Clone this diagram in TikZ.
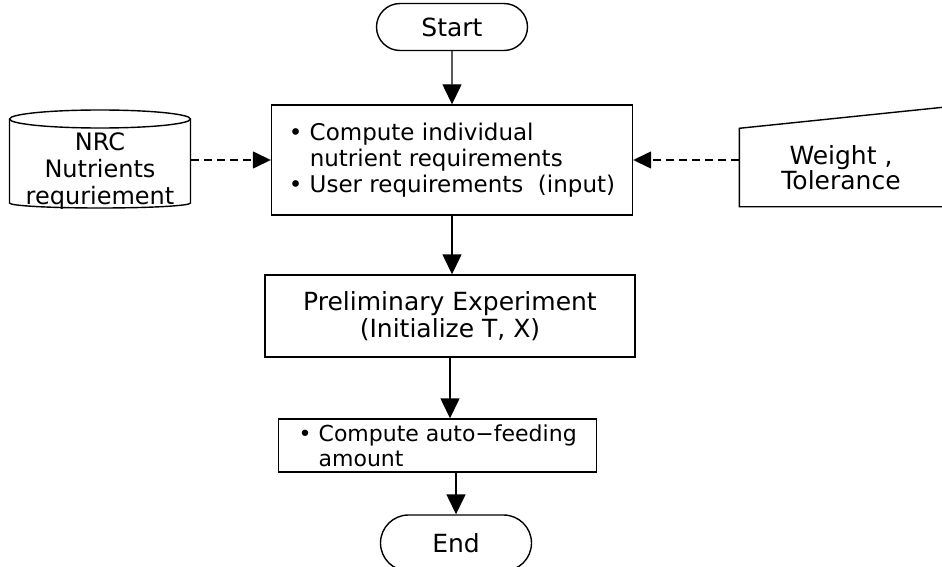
\documentclass[tikz,border=0pt]{standalone}
\usepackage{fontspec}
\setmainfont{DejaVu Sans}
\usetikzlibrary{arrows.meta,shapes.misc}
\begin{document}
\begin{tikzpicture}[x=1pt,y=-1pt,
  font=\fontsize{23}{26}\selectfont,
  line width=1.4pt,
  term/.style={rounded rectangle, draw, minimum width=151pt, minimum height=47pt, inner sep=0pt},
  proc/.style={rectangle, draw, inner sep=0pt},
  flow/.style={-{Triangle[length=20pt,width=19pt]}},
  feed/.style={-{Triangle[length=18pt,width=17pt]}, dash pattern=on 8pt off 5pt}]
\useasboundingbox (0,0) rectangle (942,567);
% terminals
\node [term, font=\fontsize{25}{26}\selectfont] (start) at (452,27) {Start};
\node [term, minimum height=56pt, font=\fontsize{25}{26}\selectfont] (stop) at (456,543) {End};
% process boxes
\node [proc, minimum width=361pt, minimum height=110pt, align=left] (main) at (452,160)
  {• Compute individual\\\hphantom{• }nutrient requirements\\• User requirements\ \ (input)};
\node [proc, minimum width=370pt, minimum height=82pt, align=center, font=\fontsize{25}{27}\selectfont] (prelim) at (450,316)
  {Preliminary Experiment\\(Initialize T, X)};
\node [proc, minimum width=249pt, minimum height=53pt, inner xsep=20pt, align=left, font=\fontsize{22}{25}\selectfont, anchor=west] (compute) at (278,445.5)
  {• Compute auto−feeding\\\hphantom{• }amount};
% data sources
\node [minimum width=181pt, align=center, font=\fontsize{24}{27}\selectfont] (nrc) at (100,171)
  {NRC\\Nutrients\\requriement};
\draw (100,119) ellipse [x radius=90.5, y radius=9];
\draw (9.5,119) -- (9.5,203) arc [start angle=180, end angle=0, x radius=90.5, y radius=5] -- (190.5,119);
\node [minimum width=202pt, minimum height=77pt, align=center, font=\fontsize{25}{25}\selectfont] (weight) at (841,167.5)
  {Weight ,\\Tolerance};
\draw (weight.north east) ++(0,-21) -- (weight.north west) -- (weight.south west) -- (weight.south east);
% flow
\draw [flow] (start) -- (main);
\draw [flow] (main.south) -- (main.south |- prelim.north);
\draw [flow] (prelim.south) -- (prelim.south |- compute.north);
\draw [flow] (stop.north |- compute.south) -- (stop.north);
\draw [feed] (nrc.east |- main.west) -- (main.west);
\draw [feed] (weight.west |- main.east) -- (main.east);
\end{tikzpicture}
\end{document}
